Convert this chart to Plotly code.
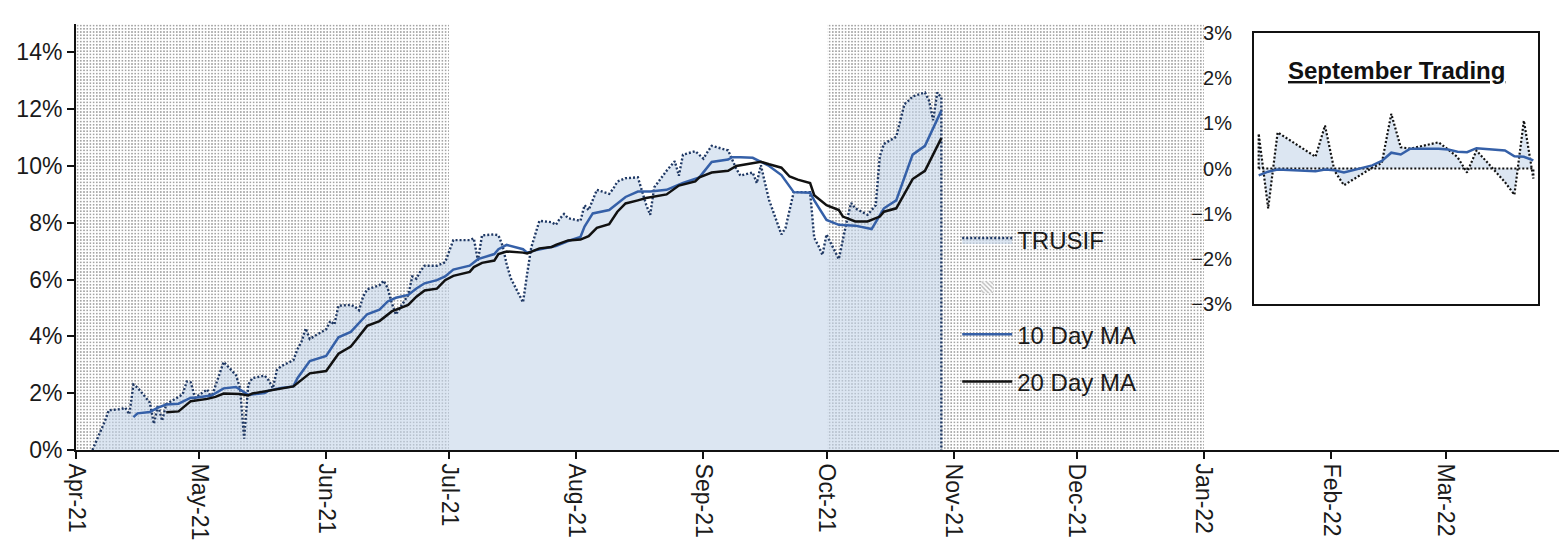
import plotly.graph_objects as go
import pandas as pd

# ---- data (values in %) ----
trusif_dates = [
    "2021-04-05", "2021-04-06", "2021-04-07", "2021-04-08", "2021-04-09", "2021-04-12", "2021-04-13",
    "2021-04-14", "2021-04-15", "2021-04-16", "2021-04-19", "2021-04-20", "2021-04-21", "2021-04-22",
    "2021-04-23", "2021-04-26", "2021-04-27", "2021-04-28", "2021-04-29", "2021-04-30", "2021-05-03",
    "2021-05-04", "2021-05-05", "2021-05-06", "2021-05-07", "2021-05-10", "2021-05-11", "2021-05-12",
    "2021-05-13", "2021-05-14", "2021-05-17", "2021-05-18", "2021-05-19", "2021-05-20", "2021-05-21",
    "2021-05-24", "2021-05-25", "2021-05-26", "2021-05-27", "2021-05-28", "2021-06-01", "2021-06-02",
    "2021-06-03", "2021-06-04", "2021-06-07", "2021-06-08", "2021-06-09", "2021-06-10", "2021-06-11",
    "2021-06-14", "2021-06-15", "2021-06-16", "2021-06-17", "2021-06-18", "2021-06-21", "2021-06-22",
    "2021-06-23", "2021-06-24", "2021-06-25", "2021-06-28", "2021-06-29", "2021-06-30", "2021-07-01",
    "2021-07-02", "2021-07-06", "2021-07-07", "2021-07-08", "2021-07-09", "2021-07-12", "2021-07-13",
    "2021-07-14", "2021-07-15", "2021-07-16", "2021-07-19", "2021-07-20", "2021-07-21", "2021-07-22",
    "2021-07-23", "2021-07-26", "2021-07-27", "2021-07-28", "2021-07-29", "2021-07-30", "2021-08-02",
    "2021-08-03", "2021-08-04", "2021-08-05", "2021-08-06", "2021-08-09", "2021-08-10", "2021-08-11",
    "2021-08-12", "2021-08-13", "2021-08-16", "2021-08-17", "2021-08-18", "2021-08-19", "2021-08-20",
    "2021-08-23", "2021-08-24", "2021-08-25", "2021-08-26", "2021-08-27", "2021-08-30", "2021-08-31",
    "2021-09-01", "2021-09-02", "2021-09-03", "2021-09-07", "2021-09-08", "2021-09-09", "2021-09-10",
    "2021-09-13", "2021-09-14", "2021-09-15", "2021-09-16", "2021-09-17", "2021-09-20", "2021-09-21",
    "2021-09-22", "2021-09-23", "2021-09-24", "2021-09-27", "2021-09-28", "2021-09-29", "2021-09-30",
    "2021-10-01", "2021-10-04", "2021-10-05", "2021-10-06", "2021-10-07", "2021-10-08", "2021-10-11",
    "2021-10-12", "2021-10-13", "2021-10-14", "2021-10-15", "2021-10-18", "2021-10-19", "2021-10-20",
    "2021-10-21", "2021-10-22", "2021-10-25", "2021-10-26", "2021-10-27", "2021-10-28", "2021-10-29",
]
trusif = [
    0.00, 0.34, 0.63, 1.00, 1.40, 1.44, 1.49,
    1.26, 2.30, 2.20, 1.67, 0.92, 1.59, 1.03,
    1.61, 1.85, 1.96, 2.41, 2.38, 1.84, 2.13,
    1.84, 2.25, 2.70, 3.10, 2.64, 2.18, 0.40,
    2.30, 2.53, 2.62, 2.45, 2.18, 2.82, 2.95,
    3.16, 3.55, 3.82, 4.28, 3.91, 4.25, 4.54,
    4.42, 5.08, 5.11, 5.05, 4.92, 5.40, 5.66,
    5.80, 5.96, 5.70, 5.17, 4.77, 5.46, 6.11,
    6.03, 6.30, 6.49, 6.49, 6.55, 6.61, 7.00,
    7.39, 7.39, 7.45, 6.67, 7.56, 7.59, 7.56,
    7.20, 6.55, 6.05, 5.20, 6.20, 7.13, 7.60,
    8.07, 8.02, 7.93, 8.15, 8.31, 8.16, 8.07,
    8.62, 8.45, 8.80, 9.16, 9.02, 9.20, 9.45,
    9.50, 9.57, 9.60, 9.10, 8.65, 8.28, 9.25,
    9.83, 10.00, 10.17, 9.66, 10.40, 10.52, 10.40,
    10.26, 10.50, 10.71, 10.55, 10.20, 9.90, 9.66,
    9.77, 9.40, 10.03, 9.40, 8.80, 7.59, 7.82,
    8.45, 9.08, 9.08, 9.08, 7.47, 7.20, 6.87,
    7.59, 6.72, 7.47, 8.10, 8.70, 8.51, 8.28,
    8.45, 8.62, 10.34, 10.78, 11.03, 11.60, 12.18,
    12.30, 12.45, 12.59, 12.30, 11.61, 12.59, 12.41,
]

ma10_dates = [
    "2021-04-15", "2021-04-16", "2021-04-19", "2021-04-21", "2021-04-23", "2021-04-26", "2021-04-29",
    "2021-04-30", "2021-05-04", "2021-05-07", "2021-05-10", "2021-05-13", "2021-05-17", "2021-05-18",
    "2021-05-21", "2021-05-24", "2021-05-25", "2021-05-28", "2021-06-01", "2021-06-04", "2021-06-07",
    "2021-06-09", "2021-06-11", "2021-06-14", "2021-06-16", "2021-06-18", "2021-06-21", "2021-06-23",
    "2021-06-25", "2021-06-28", "2021-06-30", "2021-07-02", "2021-07-06", "2021-07-08", "2021-07-12",
    "2021-07-13", "2021-07-15", "2021-07-19", "2021-07-20", "2021-07-22", "2021-07-26", "2021-07-27",
    "2021-07-30", "2021-08-02", "2021-08-03", "2021-08-05", "2021-08-09", "2021-08-13", "2021-08-16",
    "2021-08-19", "2021-08-23", "2021-08-27", "2021-08-31", "2021-09-03", "2021-09-07", "2021-09-08",
    "2021-09-10", "2021-09-13", "2021-09-17", "2021-09-20", "2021-09-23", "2021-09-27", "2021-09-28",
    "2021-10-01", "2021-10-04", "2021-10-08", "2021-10-12", "2021-10-15", "2021-10-18", "2021-10-22",
    "2021-10-25", "2021-10-29",
]
ma10 = [
    1.16, 1.29, 1.34, 1.49, 1.60, 1.63, 1.84,
    1.84, 1.92, 2.17, 2.22, 1.94, 2.01, 2.09,
    2.18, 2.24, 2.53, 3.13, 3.31, 3.97, 4.16,
    4.48, 4.78, 4.94, 5.23, 5.36, 5.46, 5.69,
    5.87, 5.98, 6.11, 6.35, 6.49, 6.72, 6.90,
    7.07, 7.22, 7.07, 6.95, 7.03, 7.13, 7.18,
    7.36, 7.50, 7.87, 8.33, 8.45, 8.91, 9.10,
    9.10, 9.16, 9.40, 9.60, 10.14, 10.23, 10.31,
    10.31, 10.29, 10.00, 9.68, 9.08, 9.06, 8.79,
    8.10, 7.93, 7.90, 7.78, 8.51, 8.79, 10.40,
    10.71, 11.95,
]

ma20_dates = [
    "2021-04-23", "2021-04-26", "2021-04-29", "2021-05-03", "2021-05-05", "2021-05-07", "2021-05-11",
    "2021-05-13", "2021-05-14", "2021-05-18", "2021-05-24", "2021-05-28", "2021-06-01", "2021-06-04",
    "2021-06-07", "2021-06-08", "2021-06-11", "2021-06-14", "2021-06-17", "2021-06-21", "2021-06-23",
    "2021-06-25", "2021-06-28", "2021-06-30", "2021-07-02", "2021-07-06", "2021-07-07", "2021-07-09",
    "2021-07-12", "2021-07-13", "2021-07-15", "2021-07-19", "2021-07-20", "2021-07-23", "2021-07-26",
    "2021-07-27", "2021-07-30", "2021-08-02", "2021-08-04", "2021-08-06", "2021-08-09", "2021-08-11",
    "2021-08-13", "2021-08-16", "2021-08-18", "2021-08-23", "2021-08-26", "2021-08-30", "2021-08-31",
    "2021-09-03", "2021-09-07", "2021-09-09", "2021-09-13", "2021-09-15", "2021-09-17", "2021-09-20",
    "2021-09-22", "2021-09-24", "2021-09-27", "2021-09-28", "2021-10-01", "2021-10-04", "2021-10-05",
    "2021-10-08", "2021-10-11", "2021-10-14", "2021-10-15", "2021-10-18", "2021-10-22", "2021-10-25",
    "2021-10-29",
]
ma20 = [
    1.33, 1.36, 1.72, 1.80, 1.87, 1.99, 1.97,
    1.92, 1.99, 2.09, 2.24, 2.70, 2.78, 3.39,
    3.64, 3.82, 4.37, 4.54, 4.88, 5.11, 5.40,
    5.62, 5.68, 5.98, 6.13, 6.27, 6.44, 6.59,
    6.67, 6.90, 6.99, 6.95, 6.92, 7.10, 7.15,
    7.22, 7.38, 7.41, 7.53, 7.82, 7.95, 8.39,
    8.68, 8.79, 8.87, 9.00, 9.31, 9.46, 9.60,
    9.77, 9.83, 10.00, 10.11, 10.15, 10.06, 9.94,
    9.63, 9.52, 9.40, 8.97, 8.62, 8.45, 8.22,
    8.05, 8.05, 8.22, 8.39, 8.51, 9.54, 9.83,
    10.98,
]

# shaded quarters
shade_start = ["2021-04-01", "2021-10-01"]
shade_end = ["2021-07-01", "2022-01-01"]
shade_top = [15, 15]

# September inset
sep_dates = [
    "2021-09-01", "2021-09-02", "2021-09-03", "2021-09-07", "2021-09-08", "2021-09-09", "2021-09-10",
    "2021-09-13", "2021-09-14", "2021-09-15", "2021-09-16", "2021-09-17", "2021-09-20", "2021-09-21",
    "2021-09-22", "2021-09-23", "2021-09-24", "2021-09-27", "2021-09-28", "2021-09-29", "2021-09-30",
]
sep_daily = [
    0.77, -0.88, 0.80, 0.26, 0.95, -0.05, -0.37,
    0.02, 0.12, 1.21, 0.47, 0.44, 0.58, 0.42,
    0.25, -0.09, 0.40, -0.30, -0.58, 1.06, -0.22,
]
sep_ma = [
    -0.15, -0.07, -0.02, -0.06, -0.02, -0.04, -0.09,
    0.07, 0.17, 0.35, 0.31, 0.44, 0.44, 0.42,
    0.37, 0.36, 0.45, 0.40, 0.27, 0.26, 0.18,
]

FONT = "Liberation Sans, Arial, sans-serif"
BLUE = "#3560A8"
NAVY = "#1F3864"
AREA = "rgba(197,213,233,0.6)"

fig = go.Figure()

# dotted quarter shading
widths = [(pd.Timestamp(e) - pd.Timestamp(s)).total_seconds() * 1000 for s, e in zip(shade_start, shade_end)]
fig.add_trace(go.Bar(
    x=shade_start, y=shade_top, width=widths, offset=0,
    marker=dict(color="#8e8e8e", line=dict(width=0),
                pattern=dict(shape=".", fillmode="replace", bgcolor="white", size=3.2, solidity=0.22)),
    showlegend=False, hoverinfo="skip",
))

# TRUSIF area, dropping to zero after the last point
fig.add_trace(go.Scatter(
    x=trusif_dates + [trusif_dates[-1]],
    y=trusif + [0],
    mode="lines", fill="tozeroy", fillcolor=AREA,
    line=dict(color=NAVY, width=2.4, dash="2px,2px"),
    name="TRUSIF", legendgroup="a",
))

# hatch entry (legend only)
fig.add_trace(go.Bar(
    x=shade_start[:1], y=[0], name="", legendgroup="b", hoverinfo="skip",
    marker=dict(color="#b4b4b4", line=dict(width=0),
                pattern=dict(shape="\\", fillmode="replace", bgcolor="white", size=4, solidity=0.4)),
))

fig.add_trace(go.Scatter(x=ma10_dates, y=ma10, mode="lines", name="10 Day MA",
                         line=dict(color=BLUE, width=2.5), legendgroup="c"))
fig.add_trace(go.Scatter(x=ma20_dates, y=ma20, mode="lines", name="20 Day MA",
                         line=dict(color="#111111", width=2.5), legendgroup="d"))

# inset
fig.add_trace(go.Scatter(
    x=[sep_dates[0]] + sep_dates + [sep_dates[-1], sep_dates[0]],
    y=[0] + sep_daily + [0, 0],
    mode="lines", fill="toself", fillcolor="#DCE6F2",
    line=dict(color="#111111", width=2.2, dash="2px,2px"),
    xaxis="x2", yaxis="y2", showlegend=False,
))
fig.add_trace(go.Scatter(x=sep_dates, y=sep_ma, mode="lines",
                         line=dict(color=BLUE, width=2.5),
                         xaxis="x2", yaxis="y2", showlegend=False))

fig.add_annotation(
    xref="x2 domain", yref="y2 domain", x=0.5, y=0.917,
    text="<b><u>September Trading</u></b>", showarrow=False,
    font=dict(size=24, color="#111111", family=FONT),
)

# page body has an 8px margin, so the figure is 8px smaller than the window
fig.update_layout(
    width=1559, height=542,
    margin=dict(l=68, r=5, t=7, b=100),
    paper_bgcolor="white", plot_bgcolor="white",
    font=dict(family=FONT, size=23, color="#1a1a1a"),
    barmode="overlay", bargap=0,
    legend=dict(x=0.593, y=0.545, xanchor="left", yanchor="top",
                bgcolor="rgba(0,0,0,0)", traceorder="grouped", tracegroupgap=13,
                itemwidth=50, font=dict(size=24)),
    xaxis=dict(
        type="date", range=["2021-04-01", "2022-03-29 08:00"],
        tickformat="%b-%y", dtick="M1", tick0="2021-04-01", tickangle=90,
        ticks="outside", ticklen=7, tickwidth=2, tickcolor="#111111",
        showline=True, linecolor="#111111", linewidth=2,
        showgrid=False, zeroline=False, automargin=False,
    ),
    yaxis=dict(
        range=[0, 15], dtick=2, ticksuffix="%",
        ticks="outside", ticklen=7, tickwidth=2, tickcolor="#111111",
        showline=True, linecolor="#111111", linewidth=2,
        showgrid=False, zeroline=False, automargin=False,
    ),
    xaxis2=dict(
        type="date", range=["2021-08-31 12:00", "2021-09-30 12:00"],
        domain=[0.7927, 0.9839], anchor="y2",
        showticklabels=False, ticks="", showgrid=False, zeroline=False,
        showline=True, mirror=True, linecolor="#111111", linewidth=2,
    ),
    yaxis2=dict(
        range=[-3, 3], dtick=1, ticksuffix="%",
        domain=[0.3425, 0.979], anchor="x2",
        ticks="outside", ticklen=16, tickcolor="rgba(0,0,0,0)",
        showgrid=False, zeroline=False,
        showline=True, mirror=True, linecolor="#111111", linewidth=2,
        tickfont=dict(size=20),
    ),
)

fig.write_html("out.html")
